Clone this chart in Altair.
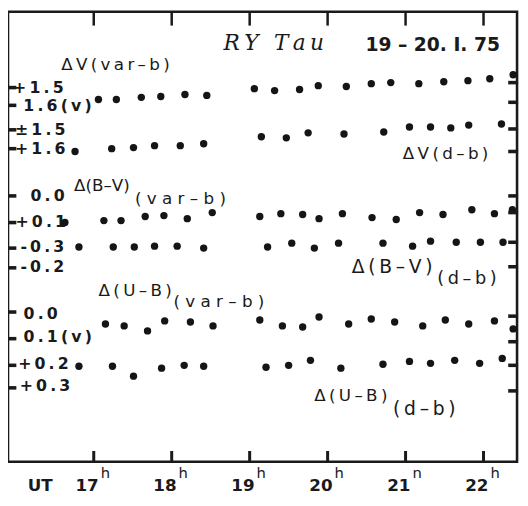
import altair as alt
import pandas as pd

TS = "\u2009"  # thin space used for the widely spaced lettering

def sp(s):
    return TS.join(list(s))

# ---------------- data (UT hours, relative magnitude offset; larger = lower) -------------
s1_name = "ΔV(var-b)"
s1_ut = [17.06, 17.29, 17.61, 17.86, 18.17, 18.45, 19.06, 19.32, 19.64, 19.88, 20.24, 20.56, 20.81, 21.17, 21.49, 21.80, 22.08, 22.38]
s1_m = [0.405, 0.405, 0.395, 0.391, 0.382, 0.386, 0.355, 0.364, 0.359, 0.341, 0.345, 0.332, 0.327, 0.332, 0.323, 0.318, 0.309, 0.291]

s2_name = "ΔV(d-b)"
s2_ut = [16.76, 17.23, 17.51, 17.78, 18.11, 18.41, 19.15, 19.47, 19.75, 20.21, 20.72, 21.05, 21.32, 21.58, 21.81, 22.23]
s2_m = [0.645, 0.632, 0.627, 0.618, 0.618, 0.609, 0.577, 0.582, 0.559, 0.564, 0.555, 0.532, 0.532, 0.536, 0.523, 0.518]

s3_name = "Δ(B-V)(var-b)"
s3_ut = [16.63, 17.13, 17.35, 17.66, 17.90, 18.20, 18.52, 19.13, 19.40, 19.68, 19.89, 20.19, 20.57, 20.88, 21.18, 21.48, 21.85, 22.14, 22.37]
s3_m = [0.973, 0.964, 0.964, 0.945, 0.941, 0.955, 0.927, 0.945, 0.932, 0.936, 0.955, 0.932, 0.950, 0.959, 0.927, 0.936, 0.914, 0.932, 0.914]

s4_name = "Δ(B-V)(d-b)"
s4_ut = [16.81, 17.25, 17.52, 17.78, 18.07, 18.41, 19.23, 19.54, 19.83, 20.14, 20.71, 21.09, 21.32, 21.65, 21.96, 22.25]
s4_m = [1.086, 1.086, 1.086, 1.082, 1.082, 1.091, 1.086, 1.068, 1.091, 1.068, 1.068, 1.082, 1.059, 1.064, 1.064, 1.064]

s5_name = "Δ(U-B)(var-b)"
s5_ut = [17.15, 17.39, 17.69, 17.91, 18.24, 18.53, 19.13, 19.42, 19.68, 19.89, 20.27, 20.56, 20.86, 21.22, 21.51, 21.81, 22.14, 22.38]
s5_m = [1.441, 1.450, 1.473, 1.427, 1.432, 1.450, 1.423, 1.450, 1.455, 1.409, 1.441, 1.418, 1.432, 1.450, 1.423, 1.441, 1.427, 1.464]

s6_name = "Δ(U-B)(d-b)"
s6_ut = [16.81, 17.24, 17.51, 17.87, 18.16, 18.41, 19.21, 19.50, 19.78, 20.17, 20.71, 21.05, 21.32, 21.63, 21.95, 22.24]
s6_m = [1.636, 1.636, 1.682, 1.645, 1.632, 1.636, 1.641, 1.632, 1.609, 1.645, 1.627, 1.614, 1.623, 1.609, 1.623, 1.600]

# hour ticks
hours = [17, 18, 19, 20, 21, 22]
hour_sup = ["h", "h", "h", "h", "n", "h"]

# left-hand scale labels and their positions
ylab_text = ["+1.5", "1.6(v)", "±1.5", "+1.6", "0.0", "+0.1", "-0.3", "-0.2", "0.0", "0.1(v)", "+0.2", "+0.3"]
ylab_pos = [0.350, 0.436, 0.545, 0.632, 0.850, 0.973, 1.086, 1.177, 1.395, 1.500, 1.627, 1.727]
ylab_x = [15.965, 16.097, 15.990, 15.990, 16.188, 15.996, 16.059, 16.059, 16.100, 16.100, 16.030, 16.050]
ltick_pos = [0.350, 0.432, 0.545, 0.632, 0.850, 0.973, 1.091, 1.182, 1.386, 1.509, 1.632, 1.736]
rtick_pos = [0.327, 0.418, 0.541, 0.645, 0.850, 0.927, 1.064, 1.177, 1.405, 1.523, 1.632, 1.750]

# ---------------- layout constants ----------------
X0, X1 = 15.90, 22.43
Y0, Y1 = 0.0, 2.077
W, H = 517, 457

xs = alt.Scale(domain=[X0, X1], nice=False, zero=False)
ys = alt.Scale(domain=[Y0, Y1], nice=False, zero=False, reverse=True)

rows = []
for name, ut, m in [(s1_name, s1_ut, s1_m), (s2_name, s2_ut, s2_m), (s3_name, s3_ut, s3_m),
                    (s4_name, s4_ut, s4_m), (s5_name, s5_ut, s5_m), (s6_name, s6_ut, s6_m)]:
    for a, b in zip(ut, m):
        rows.append({"series": name, "ut": a, "m": b})
pts = pd.DataFrame(rows)

INK = "#1a1a1a"
FONT = "DejaVu Sans"


def X(f):
    return alt.X(f, type="quantitative", scale=xs, axis=None)


def Y(f):
    return alt.Y(f, type="quantitative", scale=ys, axis=None)


points = alt.Chart(pts).mark_circle(size=56, color="#151515", opacity=1).encode(x=X("ut"), y=Y("m"))

# frame tick marks as filled symbol shapes
tk = []
for h in hours:
    tk.append({"tx": h, "ty": 0.032, "kind": "top"})
    tk.append({"tx": h, "ty": 2.055, "kind": "bottom"})
for p in ltick_pos:
    tk.append({"tx": X0 + 0.044, "ty": p, "kind": "side"})
for p in rtick_pos:
    tk.append({"tx": X1 - 0.05, "ty": p, "kind": "side"})
kinds = ["top", "bottom", "side"]
tick_marks = alt.Chart(pd.DataFrame(tk)).mark_point(filled=True, opacity=1, color=INK).encode(
    x=X("tx"), y=Y("ty"),
    shape=alt.Shape("kind:N", legend=None, scale=alt.Scale(
        domain=kinds,
        range=["M-0.18,-1H0.18V1H-0.18Z", "M-0.25,-1H0.25V1H-0.25Z", "M-1,-0.36H1V0.36H-1Z"])),
    size=alt.Size("kind:N", legend=None, scale=alt.Scale(domain=kinds, range=[196, 100, 56])),
)


def text_layer(xv, yv, tv, size, font=FONT, weight="normal", style="normal", align="left", dx=0):
    df = pd.DataFrame({"x": xv, "y": yv, "t": tv})
    return alt.Chart(df).mark_text(
        align=align, baseline="middle", font=font, fontSize=size, fontWeight=weight,
        fontStyle=style, color=INK, dx=dx).encode(x=X("x"), y=Y("y"), text="t:N")


ylabels = text_layer(ylab_x, ylab_pos, [sp(t) for t in ylab_text], 16, weight="bold")

# series labels: (text, x, y, size)
labs = [
    (sp("ΔV(var–b)"), 16.582, 0.245, 17),
    (sp("ΔV(d–b)"), 20.965, 0.659, 17),
    ("Δ(B–V)", 16.746, 0.805, 17),
    (" ".join("(var–b)"), 17.529, 0.864, 17),
    (sp("Δ(B–V)"), 20.308, 1.177, 19),
    (sp("(d–b)"), 21.407, 1.236, 18),
    (sp("Δ(U–B)"), 17.062, 1.291, 17),
    (" ".join("(var–b)"), 18.022, 1.341, 17),
    (sp("Δ(U–B)"), 19.828, 1.773, 17),
    (sp("(d–b)"), 20.839, 1.836, 19),
]
series_layers = [text_layer([x], [y], [t], s) for (t, x, y, s) in labs]

title = text_layer([18.666], [0.145], [sp("RY") + TS + " " + TS + sp("Tau")], 22,
                   font="DejaVu Serif", style="italic")
date = text_layer([20.485], [0.155], ["19 – 20. I. 75"], 19, weight="bold")

hour_lab = text_layer(hours, [2.19] * 6, [str(h) for h in hours], 17, weight="bold", align="right", dx=5)
hour_sup_lab = text_layer(hours, [2.13] * 6, hour_sup, 15, align="left", dx=7)
ut_lab = text_layer([16.153], [2.19], ["UT"], 17, weight="bold")

chart = alt.layer(
    ylabels, *series_layers, title, date,
    hour_lab, hour_sup_lab, ut_lab, points, tick_marks
).properties(
    width=W, height=H, autosize="none",
    padding={"left": 0, "top": 0, "right": 3, "bottom": 32},
    background="white",
).configure_view(stroke=INK, strokeWidth=2.6)

chart.save("out.html", embed_options={"renderer": "svg", "actions": False})
